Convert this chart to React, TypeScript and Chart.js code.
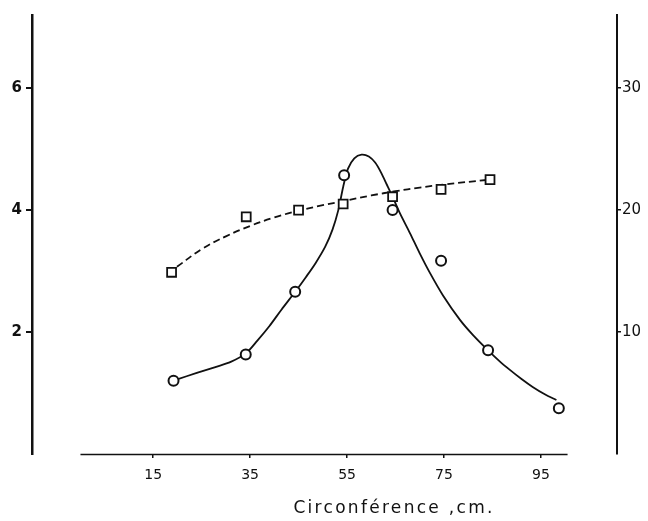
import React, { useEffect, useRef } from "react";
import { Chart, registerables } from "chart.js";

Chart.register(...registerables);

// Observed points: circles (left axis)
const circleX = [19.2, 34.1, 44.3, 54.4, 64.4, 74.4, 84.1, 98.7];
const circleY = [1.2, 1.63, 2.66, 4.57, 4.0, 3.17, 1.7, 0.75];

// Observed points: squares (right axis)
const squareX = [18.8, 34.2, 45.0, 54.2, 64.4, 74.4, 84.5];
const squareY = [14.9, 19.45, 20.0, 20.5, 21.1, 21.7, 22.5];

// Fitted solid curve (left axis)
const solidX = [19.8, 24, 28, 31, 34.1, 36.5, 39, 41.5, 44.3, 46.5, 48.5, 50.5, 52, 53.2, 54.2, 55.2, 56.5, 58, 59.5, 60.8, 62, 63.2, 64.5, 65.9, 68, 70, 72.1, 74.8, 78.3, 81, 84.1, 86.5, 88.6, 91, 93.3, 95.8, 98.2];
const solidY = [1.22, 1.33, 1.43, 1.51, 1.65, 1.86, 2.1, 2.37, 2.66, 2.9, 3.13, 3.4, 3.68, 4.0, 4.38, 4.68, 4.85, 4.91, 4.88, 4.78, 4.62, 4.42, 4.2, 3.95, 3.62, 3.29, 2.97, 2.6, 2.2, 1.95, 1.7, 1.52, 1.38, 1.23, 1.1, 0.98, 0.885];

// Fitted dashed curve (right axis)
const dashX = [19.9, 25, 30, 35, 40, 45, 50, 55, 60, 65, 70, 75, 84.5];
const dashY = [15.35, 16.8, 17.85, 18.7, 19.4, 19.95, 20.4, 20.8, 21.2, 21.55, 21.85, 22.1, 22.5];

const xTicks = [15, 35, 55, 75, 95];
const yLeftTicks = [2, 4, 6];
const yRightTicks = [10, 20, 30];
const xTitle = "Circonférence ,cm.";

const FONT = "DejaVu Sans";

const zip = (xs: number[], ys: number[]) => xs.map((x, i) => ({ x, y: ys[i] }));

export default function App() {
  const ref = useRef<HTMLCanvasElement>(null);

  useEffect(() => {
    if (!ref.current) return;

    const axisPlugin = {
      id: "customAxis",
      afterDraw(chart: any) {
        const { ctx, chartArea, scales } = chart;
        const xs = scales.x;
        ctx.save();
        ctx.strokeStyle = "#111";
        ctx.lineWidth = 1.5;
        ctx.beginPath();
        ctx.moveTo(xs.getPixelForValue(0), chartArea.bottom + 0.5);
        ctx.lineTo(xs.getPixelForValue(100.5), chartArea.bottom + 0.5);
        ctx.stroke();
        ctx.fillStyle = "#111";
        ctx.font = `17px "${FONT}"`;
        try {
          (ctx as any).letterSpacing = "2.3px";
        } catch (e) {}
        ctx.textAlign = "center";
        ctx.textBaseline = "middle";
        ctx.fillText(xTitle, xs.getPixelForValue(64.7), 509);
        ctx.restore();
      },
    };

    const chart = new Chart(ref.current, {
      type: "scatter",
      data: {
        datasets: [
          {
            label: "circles",
            data: zip(circleX, circleY),
            yAxisID: "y",
            showLine: false,
            pointStyle: "circle",
            pointRadius: 5,
            pointBorderWidth: 2,
            pointBorderColor: "#111",
            pointBackgroundColor: "#fff",
          },
          {
            label: "squares",
            data: zip(squareX, squareY),
            yAxisID: "y1",
            showLine: false,
            pointStyle: "rect",
            pointRadius: 6.3,
            pointBorderWidth: 1.8,
            pointBorderColor: "#111",
            pointBackgroundColor: "#fff",
          },
          {
            label: "solid",
            data: zip(solidX, solidY),
            yAxisID: "y",
            showLine: true,
            pointRadius: 0,
            borderColor: "#111",
            borderWidth: 1.8,
            tension: 0.3,
          },
          {
            label: "dashed",
            data: zip(dashX, dashY),
            yAxisID: "y1",
            showLine: true,
            pointRadius: 0,
            borderColor: "#111",
            borderWidth: 1.8,
            borderDash: [7, 4],
            tension: 0.4,
          },
        ] as any,
      },
      options: {
        animation: false,
        responsive: false,
        devicePixelRatio: 1,
        layout: { padding: { top: 15, left: 0, right: 0, bottom: 0 } },
        plugins: {
          legend: { display: false },
          tooltip: { enabled: false },
        },
        scales: {
          x: {
            type: "linear",
            min: -10,
            max: 110.7,
            position: "bottom",
            afterBuildTicks: (s: any) => {
              s.ticks = xTicks.map((v) => ({ value: v }));
            },
            afterFit: (s: any) => {
              s.height = 67;
            },
            border: { display: false },
            grid: {
              drawOnChartArea: false,
              drawTicks: true,
              tickLength: 4,
              color: "#111",
              lineWidth: 1.5,
            },
            ticks: {
              color: "#111",
              font: { family: FONT, size: 14 },
              padding: 9,
              maxRotation: 0,
            },
          },
          y: {
            type: "linear",
            position: "left",
            min: 0,
            max: 7.2,
            afterBuildTicks: (s: any) => {
              s.ticks = yLeftTicks.map((v) => ({ value: v }));
            },
            afterFit: (s: any) => {
              s.width = 32;
            },
            border: { display: true, color: "#111", width: 2.5 },
            grid: {
              drawOnChartArea: false,
              drawTicks: true,
              tickLength: 6,
              color: "#111",
              lineWidth: 2,
            },
            ticks: {
              color: "#111",
              font: { family: FONT, size: 15, weight: "bold" },
              padding: 4,
            },
          },
          y1: {
            type: "linear",
            position: "right",
            min: 0,
            max: 36,
            afterBuildTicks: (s: any) => {
              s.ticks = yRightTicks.map((v) => ({ value: v }));
            },
            afterFit: (s: any) => {
              s.width = 31;
            },
            border: { display: true, color: "#111", width: 2 },
            grid: {
              drawOnChartArea: false,
              drawTicks: true,
              tickLength: 4,
              color: "#111",
              lineWidth: 1.5,
            },
            ticks: {
              color: "#111",
              font: { family: FONT, size: 15 },
              padding: 1,
            },
          },
        },
      } as any,
      plugins: [axisPlugin],
    });

    return () => chart.destroy();
  }, []);

  return (
    <div style={{ position: "absolute", left: 0, top: 0, width: 648, height: 521, background: "#fff" }}>
      <canvas ref={ref} width={648} height={521} style={{ width: 648, height: 521, display: "block" }} />
    </div>
  );
}
